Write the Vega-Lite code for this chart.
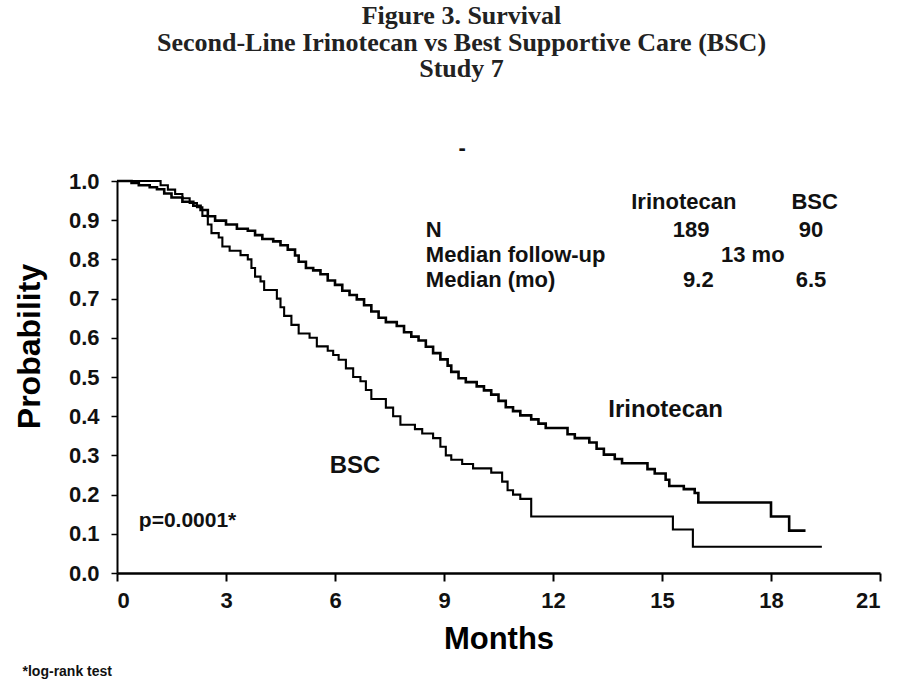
{
  "$schema": "https://vega.github.io/schema/vega-lite/v6.json",
  "width": 763,
  "height": 392,
  "autosize": "none",
  "padding": {"left": 117, "top": 181, "right": 19, "bottom": 110},
  "background": "white",
  "config": {"view": {"stroke": null}},
  "title": {
    "text": ["Figure 3. Survival", "Second-Line Irinotecan vs Best Supportive Care (BSC)", "Study 7"],
    "font": "Liberation Serif",
    "fontSize": 26,
    "fontWeight": "bold",
    "lineHeight": 26.5,
    "color": "#222222",
    "anchor": "middle",
    "frame": "group",
    "offset": 55,
    "dx": -37
  },
  "datasets": {
    "curves": [
      {"group": "Irinotecan", "month": 0, "surv": 1.0},
      {"group": "Irinotecan", "month": 0.4, "surv": 0.995},
      {"group": "Irinotecan", "month": 0.6, "surv": 0.989},
      {"group": "Irinotecan", "month": 0.9, "surv": 0.984},
      {"group": "Irinotecan", "month": 1.1, "surv": 0.979},
      {"group": "Irinotecan", "month": 1.3, "surv": 0.968},
      {"group": "Irinotecan", "month": 1.5, "surv": 0.958},
      {"group": "Irinotecan", "month": 1.8, "surv": 0.947},
      {"group": "Irinotecan", "month": 2.1, "surv": 0.937},
      {"group": "Irinotecan", "month": 2.3, "surv": 0.926},
      {"group": "Irinotecan", "month": 2.5, "surv": 0.910},
      {"group": "Irinotecan", "month": 2.7, "surv": 0.899},
      {"group": "Irinotecan", "month": 3.0, "surv": 0.889},
      {"group": "Irinotecan", "month": 3.3, "surv": 0.878},
      {"group": "Irinotecan", "month": 3.6, "surv": 0.873},
      {"group": "Irinotecan", "month": 3.8, "surv": 0.862},
      {"group": "Irinotecan", "month": 4.0, "surv": 0.852},
      {"group": "Irinotecan", "month": 4.3, "surv": 0.846},
      {"group": "Irinotecan", "month": 4.5, "surv": 0.836},
      {"group": "Irinotecan", "month": 4.7, "surv": 0.825},
      {"group": "Irinotecan", "month": 4.9, "surv": 0.810},
      {"group": "Irinotecan", "month": 5.0, "surv": 0.794},
      {"group": "Irinotecan", "month": 5.2, "surv": 0.778},
      {"group": "Irinotecan", "month": 5.4, "surv": 0.772},
      {"group": "Irinotecan", "month": 5.6, "surv": 0.762},
      {"group": "Irinotecan", "month": 5.8, "surv": 0.746},
      {"group": "Irinotecan", "month": 6.0, "surv": 0.735},
      {"group": "Irinotecan", "month": 6.2, "surv": 0.720},
      {"group": "Irinotecan", "month": 6.4, "surv": 0.709},
      {"group": "Irinotecan", "month": 6.6, "surv": 0.698},
      {"group": "Irinotecan", "month": 6.8, "surv": 0.683},
      {"group": "Irinotecan", "month": 7.0, "surv": 0.667},
      {"group": "Irinotecan", "month": 7.2, "surv": 0.651},
      {"group": "Irinotecan", "month": 7.4, "surv": 0.640},
      {"group": "Irinotecan", "month": 7.7, "surv": 0.630},
      {"group": "Irinotecan", "month": 7.9, "surv": 0.614},
      {"group": "Irinotecan", "month": 8.1, "surv": 0.603},
      {"group": "Irinotecan", "month": 8.3, "surv": 0.593},
      {"group": "Irinotecan", "month": 8.5, "surv": 0.577},
      {"group": "Irinotecan", "month": 8.7, "surv": 0.561},
      {"group": "Irinotecan", "month": 8.9, "surv": 0.545},
      {"group": "Irinotecan", "month": 9.1, "surv": 0.529},
      {"group": "Irinotecan", "month": 9.2, "surv": 0.513},
      {"group": "Irinotecan", "month": 9.4, "surv": 0.497},
      {"group": "Irinotecan", "month": 9.6, "surv": 0.487},
      {"group": "Irinotecan", "month": 9.9, "surv": 0.476},
      {"group": "Irinotecan", "month": 10.1, "surv": 0.466},
      {"group": "Irinotecan", "month": 10.3, "surv": 0.455},
      {"group": "Irinotecan", "month": 10.5, "surv": 0.439},
      {"group": "Irinotecan", "month": 10.7, "surv": 0.423},
      {"group": "Irinotecan", "month": 10.9, "surv": 0.413},
      {"group": "Irinotecan", "month": 11.1, "surv": 0.402},
      {"group": "Irinotecan", "month": 11.4, "surv": 0.392},
      {"group": "Irinotecan", "month": 11.6, "surv": 0.381},
      {"group": "Irinotecan", "month": 11.8, "surv": 0.370},
      {"group": "Irinotecan", "month": 12.4, "surv": 0.354},
      {"group": "Irinotecan", "month": 12.6, "surv": 0.344},
      {"group": "Irinotecan", "month": 13.0, "surv": 0.333},
      {"group": "Irinotecan", "month": 13.2, "surv": 0.317},
      {"group": "Irinotecan", "month": 13.4, "surv": 0.302},
      {"group": "Irinotecan", "month": 13.7, "surv": 0.291},
      {"group": "Irinotecan", "month": 13.9, "surv": 0.280},
      {"group": "Irinotecan", "month": 14.6, "surv": 0.265},
      {"group": "Irinotecan", "month": 14.8, "surv": 0.254},
      {"group": "Irinotecan", "month": 15.1, "surv": 0.238},
      {"group": "Irinotecan", "month": 15.2, "surv": 0.222},
      {"group": "Irinotecan", "month": 15.6, "surv": 0.214},
      {"group": "Irinotecan", "month": 15.9, "surv": 0.204},
      {"group": "Irinotecan", "month": 16.0, "surv": 0.180},
      {"group": "Irinotecan", "month": 18.0, "surv": 0.144},
      {"group": "Irinotecan", "month": 18.5, "surv": 0.108},
      {"group": "Irinotecan", "month": 18.95, "surv": 0.108},
      {"group": "BSC", "month": 0, "surv": 1.0},
      {"group": "BSC", "month": 1.2, "surv": 0.989},
      {"group": "BSC", "month": 1.4, "surv": 0.978},
      {"group": "BSC", "month": 1.6, "surv": 0.967},
      {"group": "BSC", "month": 1.8, "surv": 0.956},
      {"group": "BSC", "month": 2.0, "surv": 0.944},
      {"group": "BSC", "month": 2.2, "surv": 0.933},
      {"group": "BSC", "month": 2.35, "surv": 0.911},
      {"group": "BSC", "month": 2.5, "surv": 0.889},
      {"group": "BSC", "month": 2.6, "surv": 0.867},
      {"group": "BSC", "month": 2.8, "surv": 0.856},
      {"group": "BSC", "month": 2.9, "surv": 0.833},
      {"group": "BSC", "month": 3.1, "surv": 0.822},
      {"group": "BSC", "month": 3.4, "surv": 0.811},
      {"group": "BSC", "month": 3.6, "surv": 0.800},
      {"group": "BSC", "month": 3.7, "surv": 0.778},
      {"group": "BSC", "month": 3.8, "surv": 0.756},
      {"group": "BSC", "month": 3.95, "surv": 0.744},
      {"group": "BSC", "month": 4.05, "surv": 0.722},
      {"group": "BSC", "month": 4.4, "surv": 0.700},
      {"group": "BSC", "month": 4.5, "surv": 0.678},
      {"group": "BSC", "month": 4.6, "surv": 0.656},
      {"group": "BSC", "month": 4.8, "surv": 0.633},
      {"group": "BSC", "month": 5.0, "surv": 0.611},
      {"group": "BSC", "month": 5.3, "surv": 0.600},
      {"group": "BSC", "month": 5.5, "surv": 0.578},
      {"group": "BSC", "month": 5.8, "surv": 0.567},
      {"group": "BSC", "month": 5.95, "surv": 0.556},
      {"group": "BSC", "month": 6.1, "surv": 0.544},
      {"group": "BSC", "month": 6.3, "surv": 0.522},
      {"group": "BSC", "month": 6.5, "surv": 0.500},
      {"group": "BSC", "month": 6.7, "surv": 0.489},
      {"group": "BSC", "month": 6.85, "surv": 0.467},
      {"group": "BSC", "month": 7.0, "surv": 0.444},
      {"group": "BSC", "month": 7.4, "surv": 0.422},
      {"group": "BSC", "month": 7.6, "surv": 0.400},
      {"group": "BSC", "month": 7.8, "surv": 0.378},
      {"group": "BSC", "month": 8.2, "surv": 0.367},
      {"group": "BSC", "month": 8.4, "surv": 0.356},
      {"group": "BSC", "month": 8.7, "surv": 0.344},
      {"group": "BSC", "month": 8.9, "surv": 0.322},
      {"group": "BSC", "month": 9.05, "surv": 0.300},
      {"group": "BSC", "month": 9.2, "surv": 0.289},
      {"group": "BSC", "month": 9.5, "surv": 0.278},
      {"group": "BSC", "month": 9.8, "surv": 0.267},
      {"group": "BSC", "month": 10.3, "surv": 0.256},
      {"group": "BSC", "month": 10.6, "surv": 0.233},
      {"group": "BSC", "month": 10.75, "surv": 0.211},
      {"group": "BSC", "month": 10.9, "surv": 0.200},
      {"group": "BSC", "month": 11.1, "surv": 0.189},
      {"group": "BSC", "month": 11.4, "surv": 0.144},
      {"group": "BSC", "month": 15.3, "surv": 0.111},
      {"group": "BSC", "month": 15.85, "surv": 0.067},
      {"group": "BSC", "month": 19.4, "surv": 0.067}
    ],
    "tableLeft": [
      {"month": 8.5, "surv": 0.875, "label": "N"},
      {"month": 8.5, "surv": 0.811, "label": "Median follow-up"},
      {"month": 8.5, "surv": 0.747, "label": "Median (mo)"}
    ],
    "tableCenter": [
      {"month": 15.6, "surv": 0.946, "label": "Irinotecan"},
      {"month": 19.2, "surv": 0.946, "label": "BSC"},
      {"month": 15.8, "surv": 0.875, "label": "189"},
      {"month": 19.1, "surv": 0.875, "label": "90"},
      {"month": 17.5, "surv": 0.811, "label": "13 mo"},
      {"month": 16.0, "surv": 0.747, "label": "9.2"},
      {"month": 19.1, "surv": 0.747, "label": "6.5"},
      {"month": 9.5, "surv": 1.084, "label": "-"}
    ],
    "pvalue": [
      {"month": 0.6, "surv": 0.133, "label": "p=0.0001*"}
    ],
    "curveLabels": [
      {"month": 15.1, "surv": 0.416, "label": "Irinotecan"},
      {"month": 6.55, "surv": 0.273, "label": "BSC"}
    ],
    "footnote": [
      {"month": -2.6, "surv": -0.253, "label": "*log-rank test"}
    ]
  },
  "encoding": {
    "x": {
      "field": "month", "type": "quantitative",
      "scale": {"domain": [0, 21], "nice": false, "zero": true},
      "axis": {
        "title": "Months", "values": [0, 3, 6, 9, 12, 15, 18, 21], "labelOverlap": false,
        "titleFont": "Liberation Sans", "titleFontSize": 31, "titleFontWeight": "bold", "titleColor": "black", "titlePadding": 13,
        "labelFont": "Liberation Sans", "labelFontSize": 22, "labelFontWeight": "bold", "labelColor": "#111111", "labelPadding": 9,
        "tickSize": 8, "tickColor": "black", "tickWidth": 2, "domainColor": "black", "domainWidth": 2.5, "grid": false
      }
    },
    "y": {
      "field": "surv", "type": "quantitative",
      "scale": {"domain": [0, 1], "nice": false},
      "axis": {
        "title": "Probability", "values": [0, 0.1, 0.2, 0.3, 0.4, 0.5, 0.6, 0.7, 0.8, 0.9, 1], "format": ".1f", "labelOverlap": false,
        "titleFont": "Liberation Sans", "titleFontSize": 32, "titleFontWeight": "bold", "titleColor": "black",
        "titleX": -88, "titleY": 165, "titleAngle": -90, "titleAlign": "center", "titleBaseline": "middle",
        "labelFont": "Liberation Sans", "labelFontSize": 22, "labelFontWeight": "bold", "labelColor": "#111111", "labelPadding": 12,
        "tickSize": 6, "tickColor": "black", "tickWidth": 1.5, "domainColor": "black", "domainWidth": 2, "grid": false
      }
    }
  },
  "layer": [
    {
      "data": {"name": "curves"},
      "mark": {"type": "line", "interpolate": "step-after", "color": "black", "clip": false},
      "encoding": {
        "detail": {"field": "group", "type": "nominal"},
        "strokeWidth": {"field": "group", "type": "nominal", "scale": {"domain": ["Irinotecan", "BSC"], "range": [2.6, 2.1]}, "legend": null}
      }
    },
    {
      "data": {"name": "tableLeft"},
      "mark": {"type": "text", "align": "left", "baseline": "middle", "font": "Liberation Sans", "fontSize": 22, "fontWeight": "bold", "color": "#111111"},
      "encoding": {"text": {"field": "label"}}
    },
    {
      "data": {"name": "tableCenter"},
      "mark": {"type": "text", "align": "center", "baseline": "middle", "font": "Liberation Sans", "fontSize": 22, "fontWeight": "bold", "color": "#111111"},
      "encoding": {"text": {"field": "label"}}
    },
    {
      "data": {"name": "pvalue"},
      "mark": {"type": "text", "align": "left", "baseline": "middle", "font": "Liberation Sans", "fontSize": 21, "fontWeight": "bold", "color": "#111111"},
      "encoding": {"text": {"field": "label"}}
    },
    {
      "data": {"name": "curveLabels"},
      "mark": {"type": "text", "align": "center", "baseline": "middle", "font": "Liberation Sans", "fontSize": 24, "fontWeight": "bold", "color": "#111111"},
      "encoding": {"text": {"field": "label"}}
    },
    {
      "data": {"name": "footnote"},
      "mark": {"type": "text", "align": "left", "baseline": "middle", "font": "Liberation Sans", "fontSize": 14, "fontWeight": "bold", "color": "#111111"},
      "encoding": {"text": {"field": "label"}}
    }
  ]
}
